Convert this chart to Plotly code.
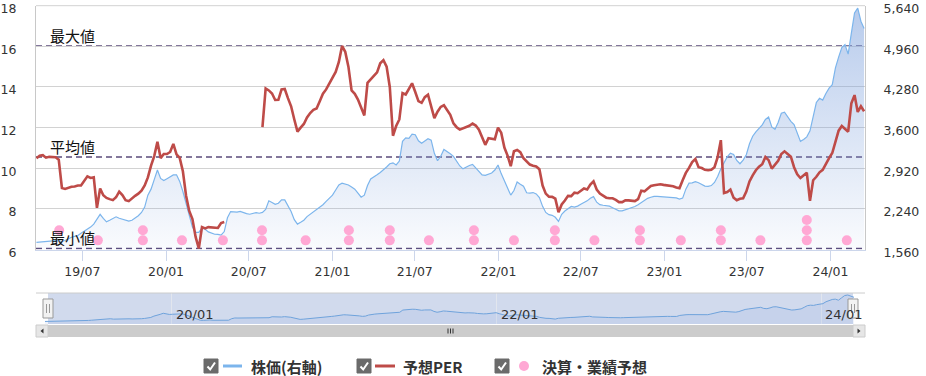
import pandas as pd
import plotly.graph_objects as go

# ---------------- data ----------------
week_start = "2019-03-22"
week_end = "2024-03-15"
dates = pd.date_range(week_start, week_end, freq="W-FRI")

price = [
    1678, 1684, 1690, 1696, 1700, 1706, 1710, 1703, 1696, 1710,
    1745, 1766, 1780, 1794, 1830, 1864, 1900, 1935, 1985, 2065,
    2148, 2080, 2023, 2048, 2085, 2107, 2082, 2068, 2050, 2036,
    2050, 2082, 2125, 2180, 2270, 2470, 2570, 2730, 2890, 2750,
    2715, 2745, 2770, 2808, 2810, 2700, 2530, 2340, 2150, 1935,
    1845, 1845, 1920, 1900, 1855, 1835, 1815, 1812, 1800, 1860,
    2090, 2195, 2185, 2186, 2198, 2175, 2160, 2150, 2165, 2178,
    2167, 2180, 2230, 2375, 2345, 2316, 2335, 2390, 2390, 2300,
    2195, 2060, 1985, 2015, 2050, 2110, 2150, 2185, 2215, 2255,
    2310, 2365, 2420, 2470, 2555, 2640, 2670, 2651, 2640, 2605,
    2570, 2505, 2435, 2470, 2630, 2740, 2770, 2810, 2850, 2890,
    2940, 2995, 3010, 2975, 3040, 3370, 3427, 3420, 3490, 3480,
    3380, 3340, 3383, 3415, 3390, 3170, 3045, 3120, 3234, 3202,
    3163, 3118, 3040, 2958, 2910, 2942, 2965, 2985, 2930, 2862,
    2808, 2800, 2820, 2840, 2890, 2975, 2830, 2702, 2570, 2470,
    2548, 2690, 2653, 2618, 2510, 2503, 2513, 2490, 2430, 2282,
    2180, 2143, 2132, 2099, 2030, 2150, 2205, 2250, 2280, 2270,
    2286, 2318, 2345, 2374, 2417, 2445, 2352, 2310, 2300, 2294,
    2285, 2260, 2230, 2208, 2207, 2225, 2242, 2257, 2280, 2310,
    2350, 2385, 2416, 2434, 2450, 2450, 2450, 2440, 2435, 2433,
    2433, 2423, 2405, 2420, 2570, 2670, 2675, 2695, 2678, 2644,
    2622, 2618, 2630, 2682, 2782, 2910, 3020, 3110, 3172, 3150,
    3050, 2995, 3055, 3145, 3330, 3455, 3528, 3580, 3645, 3737,
    3777, 3610, 3570, 3686, 3840, 3858, 3772, 3705, 3650, 3500,
    3370, 3402, 3445, 3545, 3780, 4020, 4090, 4060, 4170, 4260,
    4318, 4600, 4780, 4940, 4990, 4830, 5180, 5520, 5600, 5380, 5260,
]

per = [
    10.49, 10.62, 10.64, 10.52, 10.56, 10.56, 10.54, 10.42, 9.03, 8.98,
    9.05, 9.09, 9.10, 9.15, 9.15, 9.35, 9.60, 9.52, 9.55, 8.05,
    9.00, 8.67, 8.54, 8.48, 8.43, 8.57, 8.85, 8.68, 8.43, 8.38,
    8.53, 8.64, 8.75, 8.90, 9.15, 9.55, 10.13, 10.60, 11.30, 10.50,
    10.70, 10.70, 10.80, 11.20, 10.68, 10.51, 9.85, 8.65, 7.90, 7.50,
    6.62, 6.05, 7.10, 7.04, 7.10, 7.09, 7.10, 7.06, 7.30, 7.35,
    None, None, None, None, None, None, None, None, None, None,
    None, 12.02, 13.93, 13.83, 13.68, 13.36, 13.37, 13.88, 13.90, 13.45,
    13.05, 12.40, 11.80, 12.00, 12.18, 12.50, 12.72, 12.87, 12.94, 13.30,
    13.67, 13.88, 14.15, 14.40, 14.74, 15.23, 16.02, 15.73, 15.00, 13.83,
    13.66, 13.38, 12.95, 12.60, 14.20, 14.37, 14.52, 14.72, 15.17, 15.32,
    15.00, 14.00, 11.60, 12.08, 12.40, 13.70, 13.63, 13.90, 14.18, 13.75,
    13.30, 13.22, 13.50, 13.62, 12.98, 12.47, 12.78, 13.02, 13.10, 12.89,
    12.63, 12.21, 12.02, 11.90, 11.97, 12.01, 12.09, 12.20, 12.10, 11.90,
    11.55, 11.15, 11.48, 11.47, 11.43, 12.00, 11.75, 11.02, 10.62, 10.10,
    10.84, 10.90, 10.79, 10.49, 10.34, 10.18, 10.12, 10.09, 9.95, 9.15,
    8.75, 8.60, 8.59, 8.50, 7.83, 8.22, 8.41, 8.64, 8.63, 8.80,
    8.77, 8.87, 9.00, 8.95, 9.20, 9.36, 8.95, 8.75, 8.64, 8.55,
    8.52, 8.52, 8.44, 8.33, 8.33, 8.42, 8.42, 8.39, 8.38, 8.48,
    8.89, 8.86, 9.01, 9.13, 9.16, 9.18, 9.21, 9.18, 9.16, 9.16,
    9.11, 9.05, 9.02, 9.41, 9.77, 10.02, 10.30, 10.45, 10.05, 10.01,
    9.92, 9.90, 9.92, 10.05, 10.55, 11.38, 8.78, 8.83, 8.95, 8.55,
    8.43, 8.50, 8.52, 8.85, 9.35, 9.65, 9.90, 10.08, 10.20, 10.55,
    10.40, 9.98, 10.20, 10.37, 10.70, 10.83, 10.70, 10.57, 10.05, 9.70,
    9.52, 9.65, 9.78, 8.40, 9.41, 9.58, 9.80, 9.92, 10.23, 10.50,
    10.75, 11.30, 11.85, 12.08, 11.95, 11.80, 13.20, 13.60, 12.77, 13.05, 12.80,
]

event_dates = [
    "2019-05-11", "2019-08-04", "2019-11-11", "2019-11-11", "2020-02-05",
    "2020-05-05", "2020-07-30", "2020-07-30", "2020-11-03", "2021-02-06",
    "2021-02-06", "2021-05-07", "2021-05-07", "2021-08-01", "2021-11-08",
    "2021-11-08", "2022-02-04", "2022-05-05", "2022-05-05", "2022-07-31",
    "2022-11-08", "2022-11-08", "2023-02-06", "2023-05-05", "2023-05-05",
    "2023-07-31", "2023-11-10", "2023-11-10", "2023-11-10", "2024-02-06",
]
event_values = [
    6.95, 6.45, 6.45, 6.95, 6.45,
    6.45, 6.45, 6.95, 6.45, 6.45,
    6.95, 6.45, 6.95, 6.45, 6.45,
    6.95, 6.45, 6.45, 6.95, 6.45,
    6.45, 6.95, 6.45, 6.45, 6.95,
    6.45, 6.45, 6.95, 7.45, 6.45,
]

per_max, per_avg, per_min = 16.02, 10.55, 6.05
ref_labels = ["最大値", "平均値", "最小値"]

per_range = [6, 18.0005]
price_range = [1560, 5640.2]
x_range = ["2019-03-21", "2024-03-17"]

nav_tick_dates = ["2020-01-01", "2022-01-01", "2024-01-01"]
nav_tick_labels = ["20/01", "22/01", "24/01"]

legend_labels = ["株価(右軸)", "予想PER", "決算・業績予想"]

assert len(price) == len(dates) == len(per)

# ---------------- style ----------------
W, H = 926, 376
def px(x):
    return x / W
def py(y):
    return 1 - y / H

BLUE = "#7cb5ec"
RED = "#be4b48"
PINK = "#ffa8d4"
REF = "#5b4b7b"
TXT = "#333333"
NUMFONT = "DejaVu Sans, Noto Sans CJK JP"
JPFONT = "Noto Sans CJK JP, DejaVu Sans"

fig = go.Figure()

fig.add_trace(go.Scatter(
    x=dates, y=price, xaxis="x", yaxis="y", mode="lines",
    line=dict(color=BLUE, width=1.2), fill="tozeroy",
    fillgradient=dict(type="vertical", start=1560, stop=5640,
                      colorscale=[[0, "rgba(124,160,220,0.04)"], [1, "rgba(124,160,220,0.55)"]]),
    hoverinfo="skip", name=legend_labels[0]))

fig.add_trace(go.Scatter(
    x=dates, y=per, xaxis="x", yaxis="y2", mode="lines",
    line=dict(color=RED, width=2.6), connectgaps=False,
    hoverinfo="skip", name=legend_labels[1]))

fig.add_trace(go.Scatter(
    x=pd.to_datetime(event_dates), y=event_values, xaxis="x", yaxis="y2", mode="markers",
    marker=dict(color=PINK, size=10, line=dict(width=0)),
    hoverinfo="skip", name=legend_labels[2]))

# navigator
fig.add_trace(go.Scatter(
    x=dates, y=price, xaxis="x2", yaxis="y3", mode="lines",
    line=dict(color="#6fa3dc", width=1), fill="tozeroy",
    fillcolor="rgba(124,160,220,0.12)", hoverinfo="skip", showlegend=False))

tickfont = dict(family=NUMFONT, size=12.5, color=TXT)

fig.update_layout(
    width=W, height=H,
    margin=dict(l=0, r=0, t=0, b=0, autoexpand=False),
    paper_bgcolor="white", plot_bgcolor="rgba(0,0,0,0)",
    showlegend=False,
    font=dict(family=NUMFONT, size=12, color=TXT),
    xaxis=dict(domain=[px(36), px(865)], anchor="y", type="date", range=x_range,
               tickformat="%y/%m", dtick="M6", tick0="2019-07-01",
               ticks="outside", ticklen=10, tickcolor="#ccd6eb", tickwidth=1,
               showline=True, linecolor="#ccd6eb", linewidth=1,
               showgrid=False, zeroline=False, tickfont=tickfont,
               ticklabeloverflow="allow", automargin=False, fixedrange=True),
    yaxis=dict(domain=[py(249.5), py(5.7)], anchor="x", side="right",
               range=price_range, tick0=1560, dtick=680, tickformat=",d",
               showgrid=True, gridcolor="#d2d2d2", gridwidth=1,
               showline=True, linecolor="#c8c8c8", linewidth=1,
               ticks="outside", ticklen=15, tickcolor="rgba(0,0,0,0)",
               ticklabeloverflow="allow", ticklabelshift=3,
               zeroline=False, tickfont=tickfont, automargin=False, fixedrange=True),
    yaxis2=dict(overlaying="y", anchor="x", side="left", range=per_range,
                tick0=6, dtick=2, showgrid=False,
                showline=True, linecolor="#c8c8c8", linewidth=1,
                ticks="outside", ticklen=16, tickcolor="rgba(0,0,0,0)",
                ticklabeloverflow="allow", ticklabelshift=3,
                zeroline=False, tickfont=tickfont, automargin=False, fixedrange=True),
    xaxis2=dict(domain=[px(45), px(854)], anchor="y3", type="date",
                range=[dates[0], dates[-1]], showticklabels=False,
                showgrid=True, dtick="M24", tick0="2020-01-01", gridcolor="#e2e6ee",
                showline=False, zeroline=False, ticks="", automargin=False, fixedrange=True),
    yaxis3=dict(domain=[py(324), py(293)], anchor="x2", range=[1300, 5900],
                showticklabels=False, showgrid=False, zeroline=False, showline=False,
                ticks="", automargin=False, fixedrange=True),
)

shapes = []
annotations = []

# top border of the plot area (gridline at the top tick)
shapes.append(dict(type="line", xref="paper", yref="paper", x0=px(36), x1=px(865),
                   y0=py(5.7), y1=py(5.7), line=dict(color="#d2d2d2", width=1), layer="below"))

# reference lines (max / avg / min)
for val, lab in zip([per_max, per_avg, per_min], ref_labels):
    shapes.append(dict(type="line", xref="paper", yref="y2", x0=px(36), x1=px(865),
                       y0=val, y1=val, line=dict(color=REF, width=1.5, dash="6px,4px"),
                       layer="between"))
    annotations.append(dict(xref="paper", yref="y2", x=px(48), y=val, text=lab,
                            xanchor="left", yanchor="bottom", yshift=-2, showarrow=False,
                            font=dict(family=JPFONT, size=15, color="#111111")))

# navigator frame & mask
shapes.append(dict(type="rect", xref="paper", yref="paper", x0=px(48), x1=px(853),
                   y0=py(324), y1=py(293), fillcolor="rgba(102,133,194,0.3)",
                   line=dict(width=0), layer="below"))
shapes.append(dict(type="line", xref="paper", yref="paper", x0=px(36), x1=px(865),
                   y0=py(293), y1=py(293), line=dict(color="#cccccc", width=1)))
for d, lab in zip(nav_tick_dates, nav_tick_labels):
    annotations.append(dict(xref="x2", yref="paper", x=d, y=py(314), text=lab,
                            xanchor="left", yanchor="middle", xshift=2, showarrow=False,
                            font=dict(family=NUMFONT, size=13, color=TXT)))

# scrollbar
shapes.append(dict(type="rect", xref="paper", yref="paper", x0=px(36), x1=px(865),
                   y0=py(337), y1=py(325), fillcolor="#f2f2f2", line=dict(width=0)))
shapes.append(dict(type="rect", xref="paper", yref="paper", x0=px(48), x1=px(853),
                   y0=py(337), y1=py(325), fillcolor="#cccccc", line=dict(width=0)))
for a, b in [(36, 48), (853, 865)]:
    shapes.append(dict(type="rect", xref="paper", yref="paper", x0=px(a), x1=px(b),
                       y0=py(337), y1=py(325), fillcolor="#e6e6e6",
                       line=dict(color="#cccccc", width=1)))
shapes.append(dict(type="path", xref="paper", yref="paper",
                   path=f"M {px(43.5)} {py(328.5)} L {px(40.5)} {py(331)} L {px(43.5)} {py(333.5)} Z",
                   fillcolor="#333333", line=dict(width=0)))
shapes.append(dict(type="path", xref="paper", yref="paper",
                   path=f"M {px(857.5)} {py(328.5)} L {px(860.5)} {py(331)} L {px(857.5)} {py(333.5)} Z",
                   fillcolor="#333333", line=dict(width=0)))
for gx in [448, 450.5, 453]:
    shapes.append(dict(type="line", xref="paper", yref="paper", x0=px(gx), x1=px(gx),
                       y0=py(328.5), y1=py(333.5), line=dict(color="#333333", width=1)))

# navigator handles
for cx in [48, 853]:
    shapes.append(dict(type="rect", xref="paper", yref="paper", x0=px(cx - 5), x1=px(cx + 5),
                       y0=py(318), y1=py(299), fillcolor="#f2f2f2",
                       line=dict(color="#999999", width=1)))
    for gx in [cx - 1.5, cx + 1.5]:
        shapes.append(dict(type="line", xref="paper", yref="paper", x0=px(gx), x1=px(gx),
                           y0=py(313), y1=py(304), line=dict(color="#999999", width=1)))

# custom legend
legend_items = [
    dict(box=204, sym="line", color=BLUE, s0=223, s1=242, tx=249),
    dict(box=357, sym="line", color=RED, s0=375, s1=395, tx=401),
    dict(box=495, sym="dot", color=PINK, s0=519, s1=529, tx=540),
]
LY = 366
for item, lab in zip(legend_items, legend_labels):
    b = item["box"]
    shapes.append(dict(type="rect", xref="paper", yref="paper", x0=px(b), x1=px(b + 14),
                       y0=py(LY + 7), y1=py(LY - 7), fillcolor="#6b6b6b",
                       line=dict(color="#6b6b6b", width=1)))
    shapes.append(dict(type="path", xref="paper", yref="paper",
                       path=f"M {px(b + 3.5)} {py(LY + 0.5)} L {px(b + 6.2)} {py(LY + 3.5)} L {px(b + 11)} {py(LY - 3.5)}",
                       line=dict(color="white", width=2)))
    if item["sym"] == "line":
        shapes.append(dict(type="line", xref="paper", yref="paper", x0=px(item["s0"]),
                           x1=px(item["s1"]), y0=py(LY), y1=py(LY),
                           line=dict(color=item["color"], width=3)))
    else:
        shapes.append(dict(type="circle", xref="paper", yref="paper", x0=px(item["s0"]),
                           x1=px(item["s1"]), y0=py(LY + 5), y1=py(LY - 5),
                           fillcolor=item["color"], line=dict(width=0)))
    annotations.append(dict(xref="paper", yref="paper", x=px(item["tx"]), y=py(LY),
                            text=f"<b>{lab}</b>", xanchor="left", yanchor="middle",
                            showarrow=False, font=dict(family=JPFONT, size=15, color=TXT)))

fig.update_layout(shapes=shapes, annotations=annotations)

fig.write_html("out.html", config={"displayModeBar": False},
               post_script="document.body.style.margin='0';document.body.style.overflow='hidden';")
